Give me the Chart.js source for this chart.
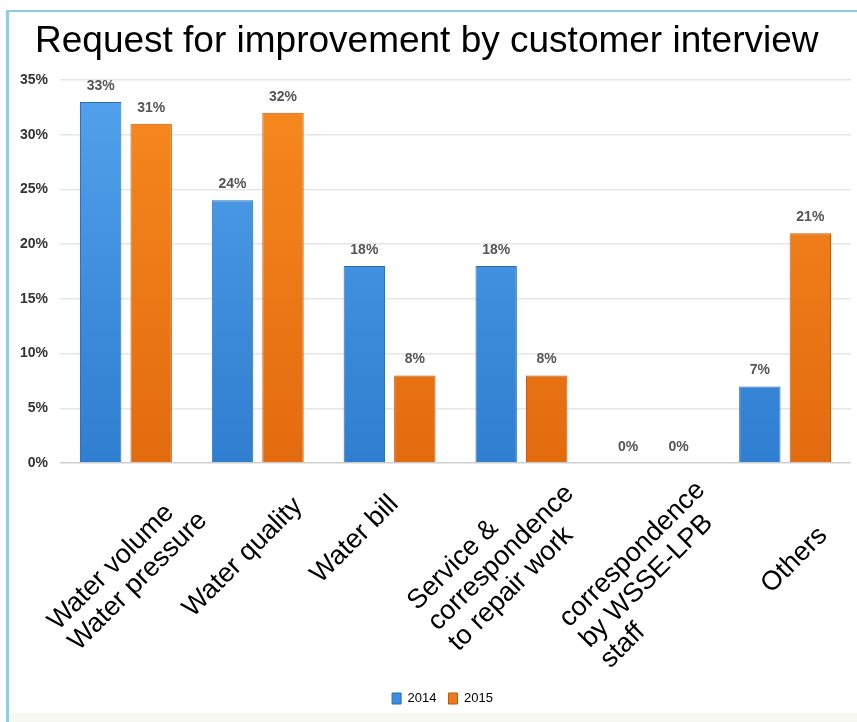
<!DOCTYPE html>
<html>
<head>
<meta charset="utf-8">
<title>Request for improvement by customer interview</title>
<script src="https://cdn.jsdelivr.net/npm/chart.js@4.4.1/dist/chart.umd.min.js"></script>
<style>
  html, body { margin: 0; padding: 0; background: #ffffff; }
  #wrap { position: relative; width: 857px; height: 722px; overflow: hidden; }
  #frame {
    position: absolute; left: 6px; top: 10px; right: -10px; bottom: -10px;
    border-left: 3px solid #93cbe0; border-top: 2px solid #8fcbe2;
  }
  #foot { position: absolute; left: 9px; right: 0; top: 713px; bottom: 0; background: #f7f8f2; }
  #c { position: absolute; left: 0; top: 0; }
</style>
</head>
<body>
<div id="wrap">
  <div id="frame"></div>
  <div id="foot"></div>
  <canvas id="c" width="857" height="722"></canvas>
</div>
<script>
// ---- data ----
const categories = [
  ["Water volume", "Water pressure"],
  ["Water quality"],
  ["Water bill"],
  ["Service &", "correspondence", "to repair work"],
  ["correspondence", "by WSSE-LPB", "staff"],
  ["Others"]
];
const seriesNames = ["2014", "2015"];
const values2014 = [33, 24, 18, 18, 0, 7];
const values2015 = [31, 32, 8, 8, 0, 21];
const yTickValues = [0, 5, 10, 15, 20, 25, 30, 35];

// ---- styling ----
const TITLE = "Request for improvement by customer interview";
const NARROW = '"Liberation Sans Narrow", "Arial Narrow", "Liberation Sans", Arial, sans-serif';
const SANS = '"Liberation Sans", Arial, Helvetica, sans-serif';
const CAT_FONT = '27px ' + SANS;
const CAT_LINE = 29;
// where the first line of each rotated category caption starts, relative to its tick on the axis
const captionStart = [[-68, 168], [-65, 155], [-69, 121], [-104, 148], [-84, 165], [-14, 131]];
const TITLE_INDENT = 35;   // title starts this far from the left edge
const LEGEND_SHIFT = 17;   // legend sits a little right of the canvas centre

const palette = {
  blue:   { top: "#52a2ec", bottom: "#2f7ed0", edge: "#2a6cb3", key: "#3b8de0" },
  orange: { top: "#f8891f", bottom: "#e26b0f", edge: "#b95914", key: "#f07a1a" }
};

function barFill(p) {
  return (ctx) => {
    const area = ctx.chart.chartArea;
    if (!area) return p.key;
    const g = ctx.chart.ctx.createLinearGradient(0, area.top, 0, area.bottom);
    g.addColorStop(0, p.top);
    g.addColorStop(1, p.bottom);
    return g;
  };
}

// move the title and legend boxes to their places once the layout is known
const boxPlacement = {
  id: "boxPlacement",
  afterLayout(chart) {
    if (chart.titleBlock) chart.titleBlock.left += TITLE_INDENT;
    if (chart.legend) {
      chart.legend.left += LEGEND_SHIFT;
      chart.legend.right += LEGEND_SHIFT;
    }
  }
};

// value captions above every bar
const valueCaptions = {
  id: "valueCaptions",
  afterDatasetsDraw(chart) {
    const ctx = chart.ctx;
    ctx.save();
    ctx.font = "bold 14px " + NARROW;
    ctx.fillStyle = "#555555";
    ctx.textAlign = "center";
    ctx.textBaseline = "middle";
    chart.data.datasets.forEach((ds, di) => {
      const meta = chart.getDatasetMeta(di);
      meta.data.forEach((bar, i) => {
        ctx.fillText(ds.data[i] + "%", bar.x, bar.y - 16);
      });
    });
    ctx.restore();
  }
};

// rotated, left-aligned multi-line category captions below the axis
const categoryCaptions = {
  id: "categoryCaptions",
  afterDraw(chart) {
    const ctx = chart.ctx;
    const xs = chart.scales.x;
    const base = chart.chartArea.bottom;
    ctx.save();
    ctx.font = CAT_FONT;
    ctx.fillStyle = "#000000";
    ctx.textAlign = "left";
    ctx.textBaseline = "alphabetic";
    categories.forEach((lines, i) => {
      const x = xs.getPixelForValue(i) + captionStart[i][0];
      const y = base + captionStart[i][1];
      ctx.save();
      ctx.translate(x, y);
      ctx.rotate(-Math.PI / 4);
      lines.forEach((t, k) => ctx.fillText(t, 0, k * CAT_LINE));
      ctx.restore();
    });
    ctx.restore();
  }
};

new Chart(document.getElementById("c"), {
  type: "bar",
  data: {
    labels: categories.map(l => l.join(" ")),
    datasets: [
      {
        label: seriesNames[0],
        data: values2014,
        backgroundColor: barFill(palette.blue),
        borderColor: palette.blue.edge,
        borderWidth: (c) => (c.raw ? 1 : 0),
        borderSkipped: "bottom",
        categoryPercentage: 0.766,
        barPercentage: 0.82
      },
      {
        label: seriesNames[1],
        data: values2015,
        backgroundColor: barFill(palette.orange),
        borderColor: palette.orange.edge,
        borderWidth: (c) => (c.raw ? 1 : 0),
        borderSkipped: "bottom",
        categoryPercentage: 0.766,
        barPercentage: 0.82
      }
    ]
  },
  options: {
    responsive: false,
    animation: false,
    layout: { padding: { left: 0, right: 6, top: 0, bottom: 7 } },
    scales: {
      x: {
        grid: { display: false },
        border: { display: false },
        ticks: { display: false },
        afterFit(scale) { scale.height = 217; }
      },
      y: {
        min: 0,
        max: 35,
        afterBuildTicks(scale) { scale.ticks = yTickValues.map(v => ({ value: v })); },
        afterFit(scale) { scale.width = 60; },
        border: { display: false },
        grid: {
          drawTicks: false,
          color: (c) => (c.tick && c.tick.value === 0 ? "#cfcfcf" : "#e6e6e6"),
          lineWidth: 1.5
        },
        ticks: {
          padding: 12,
          color: "#333333",
          font: { family: NARROW, size: 14, weight: "bold" },
          callback: (v) => v + "%"
        }
      }
    },
    plugins: {
      tooltip: { enabled: false },
      title: {
        display: true,
        text: TITLE,
        align: "start",
        color: "#000000",
        font: { family: SANS, size: 37, weight: "normal", lineHeight: 1.2 },
        padding: { top: 20, bottom: 15.6 }
      },
      legend: {
        display: true,
        position: "bottom",
        labels: {
          boxWidth: 9,
          boxHeight: 11,
          padding: 12,
          color: "#888888",
          font: { family: SANS, size: 13 },
          generateLabels(chart) {
            const keys = [palette.blue, palette.orange];
            return chart.data.datasets.map((ds, i) => ({
              text: ds.label,
              fillStyle: keys[i].key,
              strokeStyle: keys[i].edge,
              lineWidth: 1,
              datasetIndex: i
            }));
          }
        }
      }
    }
  },
  plugins: [boxPlacement, valueCaptions, categoryCaptions]
});
</script>
</body>
</html>
